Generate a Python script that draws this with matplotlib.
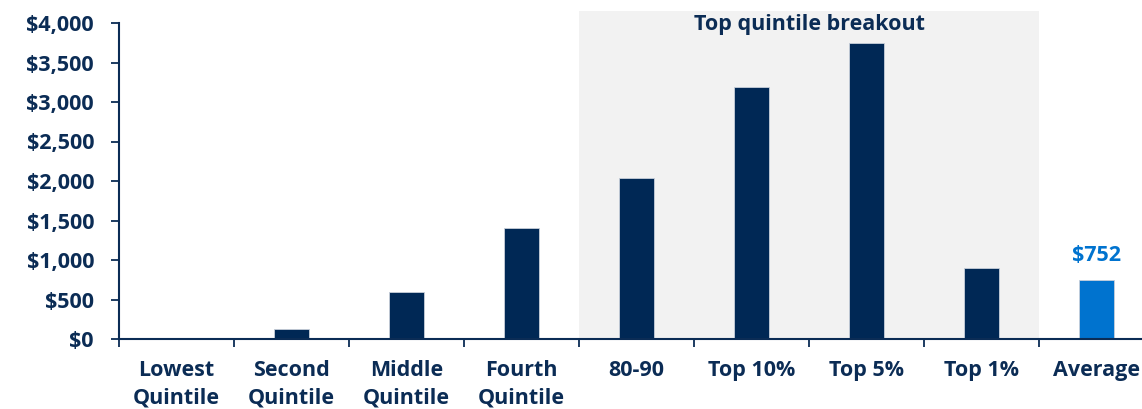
import matplotlib
matplotlib.use("Agg")
import matplotlib.pyplot as plt
from matplotlib.patches import Rectangle
from matplotlib.ticker import FuncFormatter, FixedLocator

categories = ["Lowest\nQuintile", "Second\nQuintile", "Middle\nQuintile", "Fourth\nQuintile",
              "80-90", "Top 10%", "Top 5%", "Top 1%", "Average"]
values = [15, 130, 590, 1400, 2040, 3190, 3750, 900, 752]
highlight_label = "$752"
breakout_title = "Top quintile breakout"

NAVY = "#002855"
BLUE = "#0073CF"
TEXT = "#0B2C55"
GREY = "#F2F2F2"

plt.rcParams['font.family'] = ['Open Sans', 'DejaVu Sans']
plt.rcParams['font.weight'] = 'bold'
FS = 15.5

fig = plt.figure(figsize=(11.42, 4.09), dpi=100)
ax = fig.add_axes([119/1142, 70/409, 1 - 119/1142, 316/409])

x = list(range(len(categories)))
colors = [NAVY] * (len(categories) - 1) + [BLUE]
ax.bar(x, values, width=0.31, color=colors, edgecolor='#C8CFDA', linewidth=0.6, zorder=3)

ax.set_xlim(-0.5, (1142 - 119) / 115 - 0.5)
ax.set_ylim(0, 4000)

ax.add_patch(Rectangle((3.5, 0), 4, 4150, facecolor=GREY, edgecolor='none',
                       zorder=0, clip_on=False))
ax.text(5.5, 3975, breakout_title, ha='center', va='center', fontsize=FS,
        fontweight='bold', color=TEXT, zorder=4)

ax.text(8, values[-1] + 170, highlight_label, ha='center', va='bottom',
        fontsize=FS, fontweight='bold', color=BLUE)

for s in ['top', 'right']:
    ax.spines[s].set_visible(False)
for s in ['left', 'bottom']:
    ax.spines[s].set_color(TEXT)
    ax.spines[s].set_linewidth(1.5)
ax.spines['bottom'].set_zorder(5)

ax.set_yticks(range(0, 4001, 500))
ax.yaxis.set_major_formatter(FuncFormatter(lambda v, p: f"${int(v):,}"))
ax.tick_params(axis='y', colors=TEXT, labelsize=FS, length=6, width=1.3, pad=12)
for lab in ax.get_yticklabels():
    lab.set_fontweight('bold')

ax.set_xticks(x)
ax.set_xticklabels(categories, fontsize=FS, fontweight='bold', color=TEXT, linespacing=1.4)
ax.tick_params(axis='x', which='major', length=0, pad=15)
ax.xaxis.set_minor_locator(FixedLocator([i - 0.5 for i in range(len(categories))]))
ax.tick_params(axis='x', which='minor', length=6, width=1.3, color=TEXT, direction='out')

fig.savefig("out.png", dpi=100)
